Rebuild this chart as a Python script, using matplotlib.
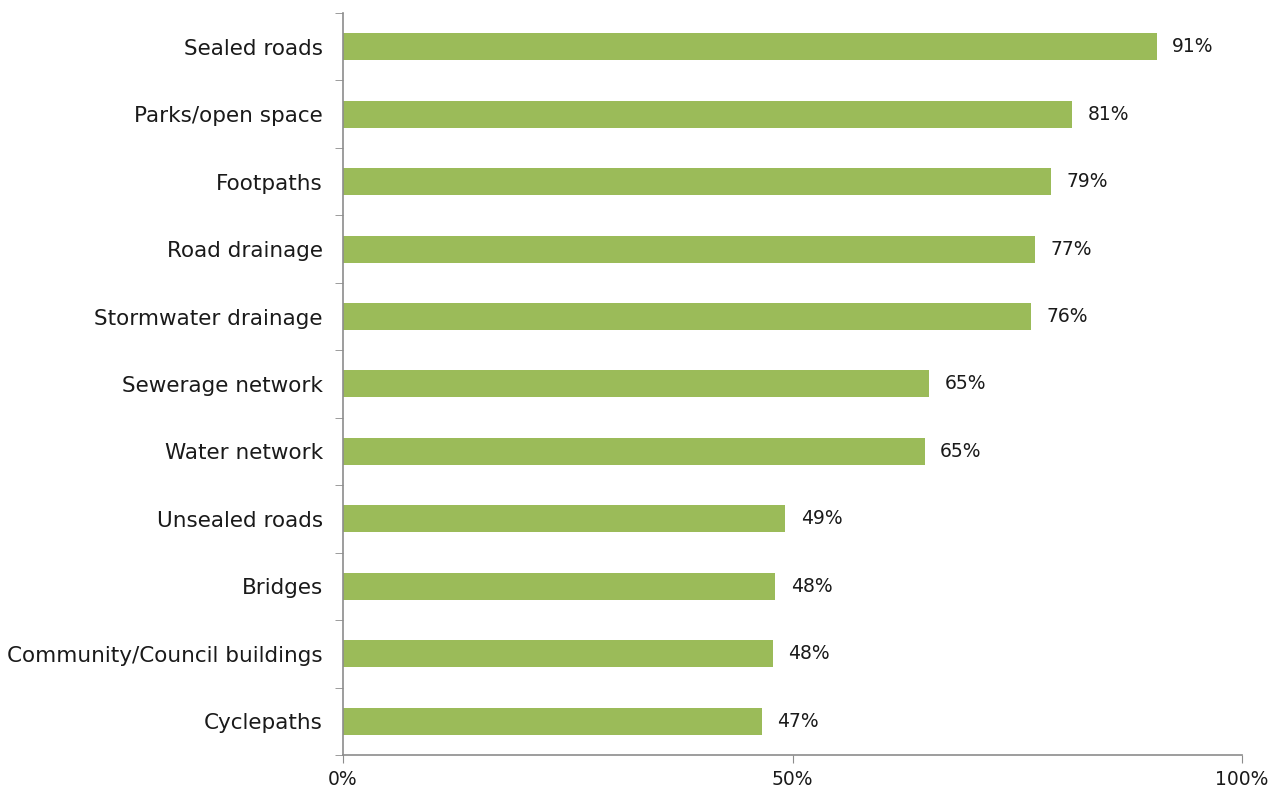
import matplotlib
matplotlib.use('Agg')
from matplotlib import pyplot as plt
import numpy as np

categories = ['Sealed roads', 'Parks/open space', 'Footpaths', 'Road drainage',
              'Stormwater drainage', 'Sewerage network', 'Water network',
              'Unsealed roads', 'Bridges', 'Community/Council buildings', 'Cyclepaths']
values = [90.5, 81.1, 78.8, 77.0, 76.5, 65.2, 64.7, 49.2, 48.1, 47.8, 46.6]
labels = ['91%', '81%', '79%', '77%', '76%', '65%', '65%', '49%', '48%', '48%', '47%']

green = '#9bbb59'
grey = '#8c8c8c'
plt.rcParams['font.family'] = 'DejaVu Sans'

fig = plt.figure(figsize=(12.73, 7.91), dpi=100)
ax = fig.add_axes([0.2694, 0.0455, 0.7063, 0.9381])

n = len(categories)
y = np.arange(n)[::-1]
ax.barh(y, values, height=0.4, color=green)
for yi, v, lab in zip(y, values, labels):
    ax.text(v + 1.7, yi, lab, va='center', ha='left', fontsize=13.5, color='#1a1a1a')

ax.set_xlim(0, 100)
ax.set_ylim(-0.5, n - 0.5)
ax.set_xticks([0, 50, 100])
ax.set_xticklabels(['0%', '50%', '100%'], fontsize=13.5, color='#1a1a1a')
ax.set_yticks(y)
ax.set_yticklabels(categories, fontsize=15.5, color='#1a1a1a')
ax.set_yticks(np.arange(n + 1) - 0.5, minor=True)
ax.tick_params(axis='y', which='major', length=0, pad=14.5)
ax.tick_params(axis='y', which='minor', length=6, color=grey, direction='out')
ax.tick_params(axis='x', length=6, color=grey, pad=5)

for s in ['top', 'right']:
    ax.spines[s].set_visible(False)
for s in ['left', 'bottom']:
    ax.spines[s].set_color(grey)
    ax.spines[s].set_linewidth(1.2)

fig.savefig('out.png', dpi=100)
